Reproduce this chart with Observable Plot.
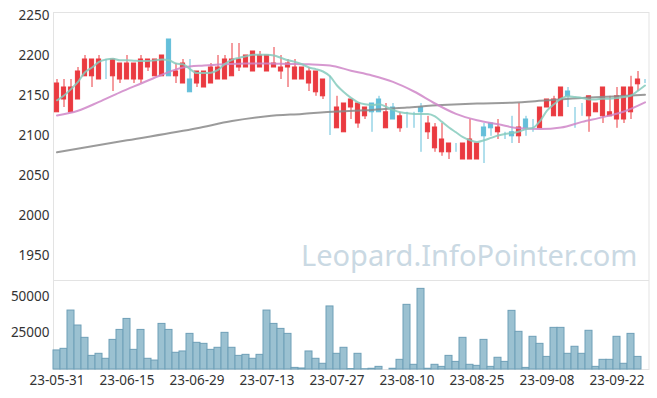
<!DOCTYPE html>
<html>
<head>
<meta charset="utf-8">
<script src="https://cdn.jsdelivr.net/npm/d3@7"></script>
<script src="https://cdn.jsdelivr.net/npm/@observablehq/plot@0.6"></script>
<style>
  html, body { margin: 0; padding: 0; background: #fff; }
  #chart svg { display: block; }
</style>
</head>
<body>
<div id="chart"></div>
<script>
// ---- tick labels ----
const priceTicks = [1950, 2000, 2050, 2100, 2150, 2200, 2250];
const volumeTicks = [25000, 50000];
const tickIndex = [0, 10, 20, 30, 40, 50, 60, 70, 80];
const tickLabels = ["23-05-31", "23-06-15", "23-06-29", "23-07-13", "23-07-27", "23-08-10", "23-08-25", "23-09-08", "23-09-22"];

// ---- daily candles (index 0..84) ----
const open = [2129,2145,2129,2145,2174,2174,2170,2195,2174,2170,
  2170,2170,2170,2185,2174,2174,2220,2174,2165,2170,
  2165,2160,2165,2170,2170,2174,2185,2185,2180,2185,
  2180,2185,2180,2185,2170,2170,2165,2154,2149,2149,
  2109,2104,2135,2115,2124,2140,2145,2109,2135,2109,
  2129,2129,2135,2104,2084,2079,2079,2090,2070,2070,
  2070,2110,2115,2104,2099,2104,2099,2120,2120,2109,
  2135,2124,2124,2155,2135,2140,2124,2129,2124,2124,
  2120,2120,2129,2164,2169];
const high = [2170,2170,2170,2185,2200,2195,2200,2195,2195,2190,
  2200,2190,2200,2195,2195,2200,2220,2190,2195,2195,
  2180,2180,2190,2200,2200,2215,2215,2200,2205,2205,
  2200,2210,2200,2195,2195,2185,2185,2180,2170,2174,
  2149,2140,2145,2140,2135,2140,2149,2140,2140,2129,
  2129,2129,2140,2124,2115,2115,2090,2090,2090,2120,
  2090,2115,2115,2120,2104,2124,2140,2124,2120,2135,
  2145,2149,2160,2160,2135,2140,2149,2140,2160,2149,
  2160,2160,2174,2180,2170];
const low = [2129,2135,2129,2145,2174,2160,2170,2170,2155,2165,
  2170,2165,2165,2180,2174,2174,2174,2165,2165,2154,
  2160,2160,2165,2170,2170,2174,2180,2185,2180,2185,
  2180,2185,2170,2160,2170,2170,2155,2149,2145,2100,
  2109,2104,2120,2109,2120,2104,2129,2109,2120,2104,
  2109,2109,2079,2095,2079,2074,2070,2079,2070,2070,
  2070,2065,2099,2095,2095,2090,2090,2099,2104,2109,
  2135,2124,2124,2135,2109,2124,2104,2129,2115,2124,
  2109,2115,2120,2155,2165];
const close = [2165,2160,2160,2180,2195,2195,2195,2195,2195,2190,
  2190,2190,2195,2195,2195,2200,2174,2180,2190,2154,
  2180,2180,2185,2185,2195,2195,2195,2200,2205,2200,
  2200,2190,2185,2190,2185,2185,2180,2180,2170,2149,
  2135,2140,2145,2140,2135,2129,2129,2129,2120,2124,
  2129,2129,2129,2115,2110,2095,2090,2090,2090,2095,
  2090,2099,2109,2110,2099,2099,2110,2109,2120,2135,
  2145,2145,2160,2149,2135,2140,2149,2140,2160,2129,
  2149,2160,2160,2170,2169];
const volume = [13000,14100,40200,30000,21600,9300,10700,7300,20200,27000,
  34500,13400,27000,7300,6100,31100,27000,11400,12300,24300,
  18200,17500,13400,14800,25000,14800,9300,10000,7300,10000,
  40200,31100,27700,24300,1100,700,12300,7300,3900,43000,
  10700,14800,300,10700,200,500,1800,0,500,6600,
  44100,3200,55000,500,3200,1800,9300,5200,21600,3200,
  2500,20200,1800,8000,5200,40000,25700,1100,22300,17500,
  8600,28400,28400,10700,15500,10700,26400,1800,6600,6600,
  22300,3900,24300,8600,0];

// ---- moving averages ----
const ma5 = [2144,2150,2158,2167,2179,2185,2192,2195,2196,2194,
  2194,2193.5,2193,2193,2194,2195,2194,2190,2189,2183,
  2178,2178,2178.5,2182,2189.5,2194.5,2197,2199,2201,2201,
  2201,2200,2197,2194,2192,2189,2185,2183,2180,2174,
  2162.5,2154,2147,2141.5,2139,2138,2139,2136,2132,2129,
  2128,2127,2127,2127,2124,2117,2110,2104,2098,2094,
  2092,2094,2097,2100,2102,2103,2105,2108,2109.5,2118,
  2131,2139,2146,2149,2148,2147,2145,2145,2146,2146,
  2147,2148,2150,2156,2162.5];
const ma20Index = [0,3,6,9,12,15,18,21,24,27,30,33,36,39,42,45,48,51,54,57,60,63,66,69,72,75,78,81,84];
const ma20 = [2125,2131,2142,2154,2165,2176,2185,2187.5,2189,2190,2190,2189.5,2189,2187.5,2181,2175,2167,2155,2140,2127,2119,2114,2109,2108,2110,2117,2123,2130,2141.5];
const ma60Index = [0,10,20,25,30,35,40,45,50,55,60,65,70,75,80,84];
const ma60 = [2079,2094,2109,2118,2124,2127,2130,2132,2135,2138,2140,2141,2144,2147,2149,2151];

// ---- build tables ----
const candles = open.map((o, i) => ({i, open: o, high: high[i], low: low[i], close: close[i], volume: volume[i]}));
const ma5Data = ma5.map((v, i) => ({i, v}));
const ma20Data = ma20Index.map((i, k) => ({i, v: ma20[k]}));
const ma60Data = ma60Index.map((i, k) => ({i, v: ma60[k]}));
const labelOf = new Map(tickIndex.map((t, k) => [t, tickLabels[k]]));

const RED = "#ea3a40", BLUE = "#64bfda";
const colorOf = d => d.close > d.open ? RED : BLUE;
const xDomain = [-0.5, 84.571];
const FONT = "Noto Sans";
const GRID = "#e3e3e3";

const priceCross = tickIndex.flatMap(i => priceTicks.map(v => ({i, v})));
const volumeCross = tickIndex.flatMap(i => volumeTicks.map(v => ({i, v})));

const price = Plot.plot({
  width: 657, height: 280,
  marginLeft: 53, marginRight: 8.5, marginTop: 12, marginBottom: 0,
  style: {fontFamily: FONT, fontSize: "13.5px", color: "#333", background: "#fff"},
  x: {domain: xDomain, axis: null},
  y: {domain: [1918.75, 2253.75]},
  marks: [
    Plot.frame({stroke: GRID}),
    Plot.dot(priceCross, {x: "i", y: "v", symbol: "plus", r: 2, fill: "#e2e2e2", stroke: null}),
    Plot.axisY(priceTicks, {tickSize: 0, tickPadding: 4, tickFormat: "d", label: null, fill: "#333"}),
    Plot.text(["Leopard.InfoPointer.com"], {frameAnchor: "bottom-right", textAnchor: "end", lineAnchor: "bottom", dx: -11.5, dy: -15, fontSize: 29, fill: "#cad9e3"}),
    Plot.ruleX(candles, {x: "i", y1: "low", y2: "high", stroke: colorOf, strokeWidth: 1}),
    Plot.rect(candles, {x1: d => d.i - 0.3, x2: d => d.i + 0.3, y1: "open", y2: "close", fill: colorOf, stroke: colorOf, strokeWidth: 1}),
    Plot.line(ma60Data, {x: "i", y: "v", curve: "monotone-x", stroke: "#8a8a8a", strokeWidth: 2, strokeOpacity: 0.85}),
    Plot.line(ma20Data, {x: "i", y: "v", curve: "monotone-x", stroke: "#cf86c8", strokeWidth: 2, strokeOpacity: 0.85}),
    Plot.line(ma5Data, {x: "i", y: "v", curve: "monotone-x", stroke: "#86cbbd", strokeWidth: 2, strokeOpacity: 0.85})
  ]
});

const vol = Plot.plot({
  width: 657, height: 118,
  marginLeft: 53, marginRight: 8.5, marginTop: 0, marginBottom: 29,
  style: {fontFamily: FONT, fontSize: "13.5px", color: "#333", background: "#fff"},
  x: {domain: xDomain},
  y: {domain: [0, 60700]},
  marks: [
    Plot.frame({stroke: GRID}),
    Plot.dot(volumeCross, {x: "i", y: "v", symbol: "plus", r: 2, fill: "#e2e2e2", stroke: null}),
    Plot.rectY(candles.filter(d => d.volume > 0), {x1: d => d.i - 0.5, x2: d => d.i + 0.5, y: "volume", fill: "#9bc1d1", stroke: "#6e9fb7", strokeWidth: 1}),
    Plot.axisY(volumeTicks, {tickSize: 0, tickPadding: 4, tickFormat: "d", label: null, fill: "#333"}),
    Plot.axisX(tickIndex, {tickSize: 0, tickPadding: 6, tickFormat: d => labelOf.get(d), label: null, fill: "#333"})
  ]
});

const root = document.getElementById("chart");
root.appendChild(price);
root.appendChild(vol);
</script>
</body>
</html>
